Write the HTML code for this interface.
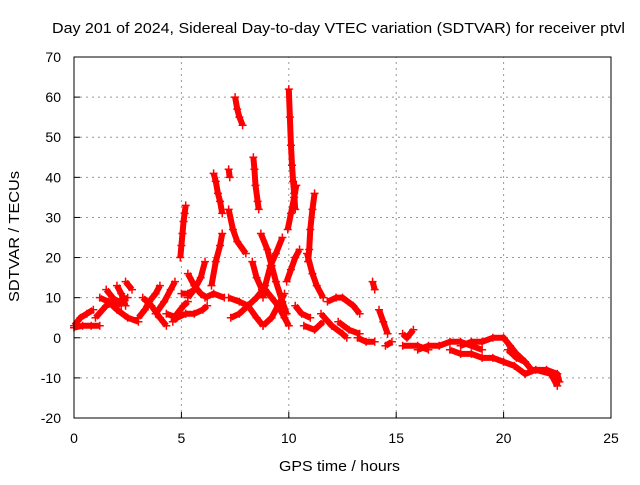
<!DOCTYPE html>
<html><head><meta charset="utf-8"><style>
body{margin:0;background:#fff}
svg text{font-family:"Liberation Sans",Arial,sans-serif;font-size:14px;fill:#000}
</style></head><body>
<svg id="chart" width="640" height="480" xmlns="http://www.w3.org/2000/svg">
<text x="52" y="33" textLength="573" lengthAdjust="spacingAndGlyphs" style="font-size:15px">Day 201 of 2024, Sidereal Day-to-day VTEC variation (SDTVAR) for receiver ptvl</text>
<text x="279" y="471" textLength="121" lengthAdjust="spacingAndGlyphs" style="font-size:15px">GPS time / hours</text>
<text x="0" y="0" textLength="131" lengthAdjust="spacingAndGlyphs" style="font-size:15px" transform="translate(19,302) rotate(-90)">SDTVAR / TECUs</text>
<g id="grid"></g><g id="marks"></g>
<rect x="74" y="57" width="537" height="361" fill="none" stroke="#000" stroke-width="1"/>
</svg>
<script>
const xTicks=[0,5,10,15,20,25];
const yTicks=[-20,-10,0,10,20,30,40,50,60,70];
const tracks=[
[[0,3],[0.3,5],[0.6,6],[0.9,7]],
[[0,2.5],[0.4,3],[0.8,3],[1.2,3]],
[[1,5],[1.5,8],[2,9],[2.5,10]],
[[1.2,10],[1.6,9],[2,7],[2.5,5],[3,4]],
[[1.5,12],[1.8,10],[2.2,8]],
[[2,13],[2.2,11],[2.4,8]],
[[2.4,14],[2.7,12]],
[[3,5],[3.3,7],[3.5,9],[3.8,11],[4,13]],
[[3.2,10],[3.6,8],[4,5],[4.3,3]],
[[3.8,6],[4.2,9],[4.5,12],[4.7,14]],
[[4.6,4],[4.8,6],[5.1,8],[5.3,9]],
[[4.3,6],[4.8,5],[5.2,6]],
[[5,11],[5.3,11],[5.6,12]],
[[5.2,6],[5.6,6],[6,7],[6.2,8]],
[[5.3,16],[5.6,13],[5.9,11],[6.2,10]],
[[5.3,10],[5.6,12],[5.9,15],[6.1,19]],
[[6.1,10],[6.5,11],[7,10]],
[[4.95,20],[5,23],[5.05,26],[5.1,29],[5.15,31],[5.2,33]],
[[6.5,41],[6.6,39],[6.7,36],[6.8,34],[6.9,31]],
[[7.2,42],[7.25,40]],
[[7.5,60],[7.6,57],[7.7,55],[7.85,53]],
[[8.35,45],[8.4,42],[8.45,38],[8.55,34],[8.6,32]],
[[10,62],[10.05,55],[10.1,48],[10.15,43],[10.2,39],[10.25,36],[10.3,32]],
[[9.95,27],[10.1,31],[10.25,35],[10.35,38]],
[[11.2,36],[11.1,32],[11,27],[10.95,22],[10.9,19]],
[[6.4,13],[6.6,19],[6.8,23],[6.9,26]],
[[7.2,32],[7.4,27],[7.6,24],[8,21]],
[[8.3,19],[8.5,15],[8.75,12]],
[[8.7,26],[9,22],[9.2,18],[9.4,14],[9.7,9],[9.9,6]],
[[9.7,25],[9.4,21],[9.15,18],[8.9,13],[8.8,10]],
[[7.2,10],[7.7,9],[8.1,8],[8.5,5],[8.8,3]],
[[7.3,5],[7.7,6],[8.1,8],[8.5,10],[8.8,12]],
[[8.9,12],[9.2,10],[9.5,8],[9.8,5],[10,3]],
[[8.8,3],[9.2,5],[9.5,8],[9.8,11]],
[[9.9,14],[10.1,17],[10.3,20],[10.5,22]],
[[10.85,21],[11.1,16],[11.3,13],[11.6,10]],
[[10.3,8],[10.6,6],[11,5]],
[[10.7,3],[11.2,2],[11.6,4]],
[[11.5,6],[12,3],[12.5,1],[12.7,0]],
[[11.8,9],[12.2,10],[12.5,10],[13,8],[13.3,6]],
[[12.3,4],[12.8,2],[13.3,1]],
[[13.2,0],[13.6,-1],[14,-1]],
[[13.9,14],[14,12]],
[[14.2,7],[14.4,4],[14.6,1]],
[[14.5,-2],[14.8,-1]],
[[15.3,1],[15.5,0],[15.8,2]],
[[15.3,-2],[16,-2],[16.5,-3]],
[[16,-3],[16.5,-2],[17,-2],[17.5,-1],[18,-1],[18.5,-2],[19,-3]],
[[18,-2],[18.5,-1],[19,-1],[19.5,0],[20,0],[20.3,-2],[20.6,-4],[21,-6],[21.3,-8],[22,-8],[22.5,-9],[22.6,-11]],
[[17.5,-3],[18,-4],[18.5,-4],[19,-5],[19.5,-5],[20,-6],[20.5,-7],[21,-9],[21.5,-8],[22.2,-9],[22.5,-12]],
[[20.2,-3],[20.6,-5],[21,-6]]
];
const X0=74,X1=611,Y0=418,Y1=57,XMIN=0,XMAX=25,YMIN=-20,YMAX=70;
function xs(v){return X0+(v-XMIN)/(XMAX-XMIN)*(X1-X0);}
function ys(v){return Y0-(v-YMIN)/(YMAX-YMIN)*(Y0-Y1);}
const NS="http://www.w3.org/2000/svg";
const grid=document.getElementById('grid'),marks=document.getElementById('marks');
function mk(t,a,p){const e=document.createElementNS(NS,t);for(const k in a)e.setAttribute(k,a[k]);p.appendChild(e);return e;}
xTicks.forEach(t=>{
 if(t>XMIN&&t<XMAX){const g=mk('line',{x1:xs(t),x2:xs(t),y1:Y0,y2:Y1,stroke:'#999','stroke-dasharray':'2,4'},grid);
 
 }
 const tk=mk('line',{x1:xs(t),x2:xs(t),y1:Y0,y2:Y0-6,stroke:'#000'},grid);
 
 
 const l=mk('text',{x:xs(t),y:Y0+25,'text-anchor':'middle'},grid);l.textContent=t;
 
 
});
yTicks.forEach(t=>{
 if(t>YMIN&&t<YMAX){const g=mk('line',{x1:X0,x2:X1,y1:ys(t),y2:ys(t),stroke:'#999','stroke-dasharray':'2,4'},grid);
 
 }
 const tk=mk('line',{x1:X0,x2:X0+6,y1:ys(t),y2:ys(t),stroke:'#000'},grid);
 
 
 const l=mk('text',{x:X0-13,y:ys(t)+5,'text-anchor':'end'},grid);l.textContent=t;
 
 
});
tracks.forEach(tr=>{
 const g=mk('g',{},marks);
 
 
 mk('polyline',{points:tr.map(p=>xs(p[0])+','+ys(p[1])).join(' '),fill:'none',stroke:'#f00','stroke-width':6,'stroke-linejoin':'round'},g);
 tr.forEach(p=>{
  const m=mk('path',{d:`M${xs(p[0])-4},${ys(p[1])}h8M${xs(p[0])},${ys(p[1])-4}v8`,stroke:'#f00','stroke-width':1.5},g);
  
  
 });
});
</script>
</body></html>
